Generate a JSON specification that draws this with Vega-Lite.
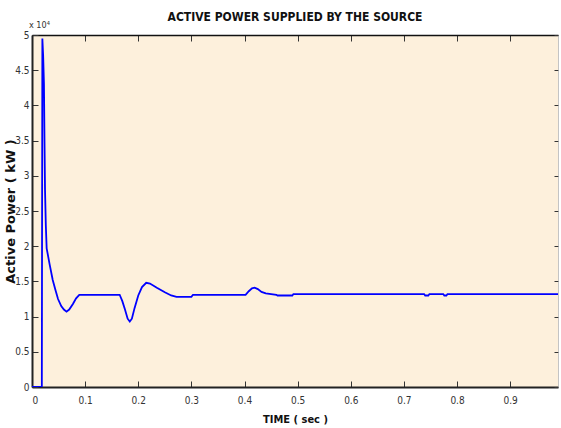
{
  "$schema": "https://vega.github.io/schema/vega-lite/v6.json",
  "autosize": {"type": "none"},
  "width": 526,
  "height": 352,
  "padding": {"left": 32, "top": 35, "right": 3, "bottom": 41},
  "background": "white",
  "config": {"view": {"fill": "#FDF0DC", "stroke": null}},
  "title": {
    "text": "ACTIVE POWER SUPPLIED BY THE SOURCE",
    "font": "Liberation Sans Narrow, DejaVu Sans Condensed, sans-serif",
    "fontSize": 12,
    "fontWeight": "bold",
    "color": "#111",
    "anchor": "middle",
    "offset": -3
  },
  "datasets": {
    "power": [
      {"t": 0, "p": 0},
      {"t": 0.0185, "p": 0},
      {"t": 0.0195, "p": 4.95},
      {"t": 0.021, "p": 4.7},
      {"t": 0.0225, "p": 4.3},
      {"t": 0.0235, "p": 3.5},
      {"t": 0.0245, "p": 2.8},
      {"t": 0.026, "p": 2.3},
      {"t": 0.0276, "p": 1.97},
      {"t": 0.033, "p": 1.75},
      {"t": 0.039, "p": 1.52},
      {"t": 0.044, "p": 1.38},
      {"t": 0.049, "p": 1.25},
      {"t": 0.055, "p": 1.15},
      {"t": 0.06, "p": 1.1},
      {"t": 0.065, "p": 1.07},
      {"t": 0.07, "p": 1.1},
      {"t": 0.077, "p": 1.18},
      {"t": 0.083, "p": 1.26},
      {"t": 0.089, "p": 1.31},
      {"t": 0.165, "p": 1.31},
      {"t": 0.17, "p": 1.22},
      {"t": 0.175, "p": 1.1},
      {"t": 0.18, "p": 0.97},
      {"t": 0.184, "p": 0.93},
      {"t": 0.188, "p": 0.97},
      {"t": 0.193, "p": 1.12},
      {"t": 0.2, "p": 1.3},
      {"t": 0.207, "p": 1.42},
      {"t": 0.215, "p": 1.48},
      {"t": 0.222, "p": 1.47},
      {"t": 0.235, "p": 1.41},
      {"t": 0.25, "p": 1.345},
      {"t": 0.262, "p": 1.3},
      {"t": 0.272, "p": 1.28},
      {"t": 0.3, "p": 1.28},
      {"t": 0.303, "p": 1.31},
      {"t": 0.402, "p": 1.31},
      {"t": 0.408, "p": 1.36},
      {"t": 0.414, "p": 1.4},
      {"t": 0.419, "p": 1.41},
      {"t": 0.425, "p": 1.39},
      {"t": 0.432, "p": 1.35},
      {"t": 0.44, "p": 1.33},
      {"t": 0.46, "p": 1.31},
      {"t": 0.462, "p": 1.3},
      {"t": 0.49, "p": 1.3},
      {"t": 0.492, "p": 1.32},
      {"t": 0.738, "p": 1.32},
      {"t": 0.74, "p": 1.3},
      {"t": 0.746, "p": 1.3},
      {"t": 0.748, "p": 1.32},
      {"t": 0.774, "p": 1.32},
      {"t": 0.776, "p": 1.3},
      {"t": 0.78, "p": 1.3},
      {"t": 0.782, "p": 1.32},
      {"t": 0.99, "p": 1.32}
    ],
    "note": [{"t": 0, "p": 5, "label": "x 10⁴"}]
  },
  "resolve": {"axis": {"x": "independent", "y": "independent"}},
  "layer": [
    {
      "data": {"name": "power"},
      "mark": {"type": "line", "color": "#0000FF", "strokeWidth": 1.8, "clip": true},
      "encoding": {
        "x": {
          "field": "t", "type": "quantitative",
          "scale": {"domain": [0, 0.99], "nice": false, "zero": false},
          "axis": {
            "orient": "bottom",
            "values": [0, 0.1, 0.2, 0.3, 0.4, 0.5, 0.6, 0.7, 0.8, 0.9],
            "format": ".1~f",
            "grid": false,
            "tickSize": -6,
            "tickColor": "#333",
            "labelPadding": 14,
            "domainColor": "#222",
            "domainWidth": 2,
            "labelFont": "Liberation Sans Narrow, DejaVu Sans Condensed, sans-serif",
            "labelFontSize": 10,
            "labelColor": "#333",
            "title": "TIME ( sec )",
            "titleFont": "Liberation Sans Narrow, DejaVu Sans Condensed, sans-serif",
            "titleFontSize": 11,
            "titleFontWeight": "bold",
            "titleColor": "#111",
            "titlePadding": 8
          }
        },
        "y": {
          "field": "p", "type": "quantitative",
          "scale": {"domain": [0, 5], "nice": false},
          "axis": {
            "orient": "left",
            "values": [0, 0.5, 1, 1.5, 2, 2.5, 3, 3.5, 4, 4.5, 5],
            "format": ".1~f",
            "grid": false,
            "tickSize": -6,
            "tickColor": "#333",
            "labelPadding": 9,
            "domainColor": "#222",
            "domainWidth": 2,
            "labelFont": "Liberation Sans Narrow, DejaVu Sans Condensed, sans-serif",
            "labelFontSize": 10,
            "labelColor": "#333",
            "title": "Active Power ( kW )",
            "titleFont": "DejaVu Sans, sans-serif",
            "titleFontSize": 13,
            "titleFontWeight": "bold",
            "titleColor": "#111",
            "titlePadding": -3
          }
        }
      }
    },
    {
      "data": {"name": "power"},
      "mark": {"type": "line", "opacity": 0},
      "encoding": {
        "x": {
          "field": "t", "type": "quantitative",
          "scale": {"domain": [0, 0.99], "nice": false, "zero": false},
          "axis": {
            "orient": "top",
            "values": [0, 0.1, 0.2, 0.3, 0.4, 0.5, 0.6, 0.7, 0.8, 0.9],
            "labels": false,
            "grid": false,
            "tickSize": -6,
            "tickColor": "#333",
            "domainColor": "#111",
            "domainWidth": 1.5,
            "title": null
          }
        },
        "y": {
          "field": "p", "type": "quantitative",
          "scale": {"domain": [0, 5], "nice": false},
          "axis": {
            "orient": "right",
            "values": [0, 0.5, 1, 1.5, 2, 2.5, 3, 3.5, 4, 4.5, 5],
            "labels": false,
            "grid": false,
            "tickSize": -4,
            "tickColor": "#333",
            "domainColor": "#888",
            "domainWidth": 0.5,
            "title": null
          }
        }
      }
    },
    {
      "data": {"name": "note"},
      "mark": {
        "type": "text", "align": "left", "baseline": "bottom", "dx": -3, "dy": -5,
        "font": "Liberation Sans Narrow, DejaVu Sans Condensed, sans-serif",
        "fontSize": 9, "color": "#333"
      },
      "encoding": {
        "x": {"field": "t", "type": "quantitative", "axis": null},
        "y": {"field": "p", "type": "quantitative", "axis": null},
        "text": {"field": "label"}
      }
    }
  ]
}
